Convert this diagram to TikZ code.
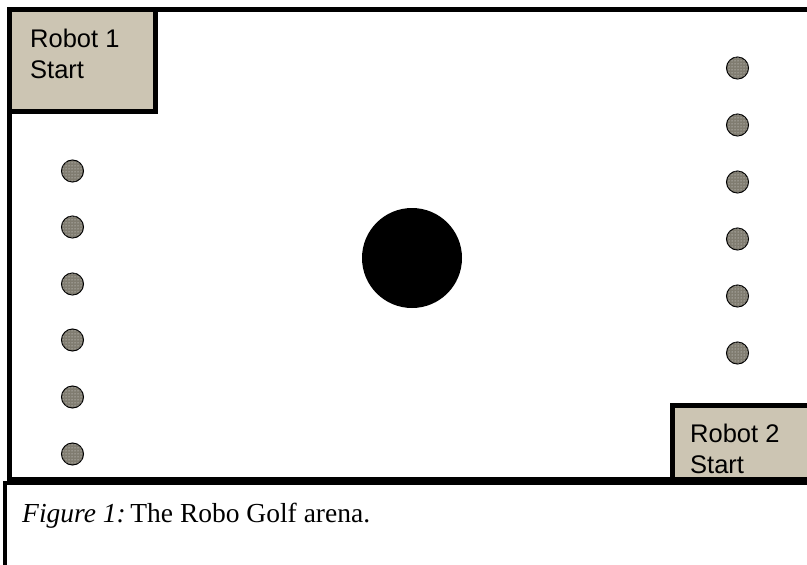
\documentclass[tikz,border=0pt]{standalone}
\usepackage{fontspec}
\setmainfont{Liberation Serif}
\newfontfamily\arialfont{Liberation Sans}
\usetikzlibrary{patterns}
\definecolor{tanfill}{RGB}{204,197,179}
\definecolor{ballfill}{RGB}{128,124,112}
\tikzset{
  wall/.style={line width=5pt, draw=black},
  startbox/.style={wall, fill=tanfill},
  ball/.style={circle, minimum size=22pt, inner sep=0pt, fill=ballfill, draw=black, line width=1pt,
    postaction={pattern=dots, pattern color=white!85!ballfill}},
  lbl/.style={anchor=base west, align=left, inner sep=0pt, font=\arialfont\fontsize{25.5}{31}\selectfont},
}
\begin{document}
\begin{tikzpicture}[x=1pt,y=-1pt]
\useasboundingbox (0,0) rectangle (807,565);
\fill[white] (0,0) rectangle (807,565);
\begin{scope}
\clip (0,0) rectangle (807,565);
% arena walls
\draw[wall] (9.5,480) -- (9.5,9.5) -- (815,9.5);
\draw[wall] (7,479) -- (815,479);
% caption box
\draw[line width=4pt] (4.5,570) -- (4.5,483) -- (815,483);
% start boxes
\draw[startbox] (9.5,9.5) rectangle (155,111);
\draw[startbox] (672.5,405.5) rectangle (815,479);
\end{scope}
\node[lbl] (r1) at (30,78) {Robot 1\\Start};
\node[lbl] (r2) at (690,473) {Robot 2\\Start};
% central hole
\node[circle, fill=black, minimum size=100pt, inner sep=0pt] (hole) at (412,258) {};
% left balls
\foreach \i/\y in {1/171,2/227,3/284,4/340,5/397,6/454}{
  \node[ball] (l\i) at (72.5,\y) {};
}
% right balls
\foreach \i/\y in {1/68,2/125,3/182,4/239,5/296,6/353}{
  \node[ball] (r\i) at (737.5,\y) {};
}
% caption
\node[anchor=base west, inner sep=0pt, font=\fontsize{27.5}{32}\selectfont] (cap) at (22,522) {\textit{Figure 1:}\,The Robo Golf arena.};
\end{tikzpicture}
\end{document}
